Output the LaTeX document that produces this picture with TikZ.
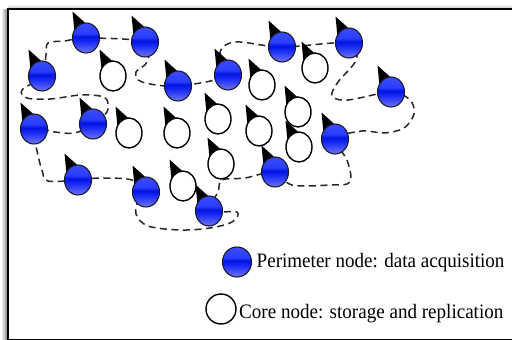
\documentclass[tikz,border=0pt]{standalone}
\usepackage{fontspec}
\setmainfont{Liberation Serif}
\usetikzlibrary{shapes.geometric,backgrounds}

\definecolor{ringgray}{RGB}{40,40,40}
\definecolor{nodeedge}{RGB}{25,25,45}

% glossy blue fill of the perimeter nodes (bottom to top)
\pgfdeclareverticalshading{glossyblue}{100bp}{%
  rgb(0bp)=(0.70,0.70,0.85);
  rgb(22bp)=(0.50,0.52,0.90);
  rgb(38bp)=(0.20,0.26,0.98);
  rgb(47bp)=(0.05,0.13,0.95);
  rgb(52bp)=(0.02,0.08,0.86);
  rgb(58bp)=(0.16,0.24,1.00);
  rgb(80bp)=(0.26,0.32,0.97);
  rgb(100bp)=(0.36,0.40,0.94)}

\tikzset{
  perim/.style={ellipse, inner sep=0pt, minimum width=27pt, minimum height=30pt,
    draw=nodeedge, line width=1.1pt, shading=glossyblue},
  core/.style={ellipse, inner sep=0pt, minimum width=26pt, minimum height=30pt,
    draw=black, line width=1.4pt, fill=white},
  pointer/.style={fill=black},
  ring/.style={draw=ringgray, line width=1.5pt, dash pattern=on 7pt off 4.5pt},
  legendtext/.style={anchor=base west, inner sep=0pt,
    font=\fontsize{20.5}{24}\selectfont},
}

\begin{document}
\begin{tikzpicture}[x=1pt, y=-1pt]
  \useasboundingbox (0,0) rectangle (512,340);

  % drop shadow and frame
  \begin{scope}[on background layer]
    \shade[left color=white, right color=black!55] (1,9) rectangle (8,340);
    \shade[top color=white, bottom color=black!25] (8,4) rectangle (512,9);
    \fill[white] (8,9) rectangle (515,339);
    \draw[line width=1.3pt] (515,9) -- (8,9) -- (8,339.2) -- (515,339.2);
  \end{scope}

  % perimeter nodes (with pointer)
  \foreach \nm/\px/\py in {n1/86/38, n2/145/42, n3/42/76, n4/178/86, n5/228/75,
      n6/282/47, n7/349/43, n8/391/92, n9/34/129, n10/93/124, n11/335/139,
      n12/78/180, n13/146/192, n14/209/211, n15/275/172} {
    \fill[pointer, shift={(\px,\py)}] (-13.5,-26.5) -- (-11.5,-6) -- (1.5,-13) -- cycle;
    \node[perim] (\nm) at (\px,\py) {};
  }

  % core nodes (with pointer)
  \foreach \nm/\px/\py in {a/113/76, b/129/133, c/177/133, d/218/119, e/221/164,
      f/183/186, g/262/85, h/259/131, i/298/112, j/299/147, k/315/68} {
    \fill[pointer, shift={(\px,\py)}] (-13.5,-26.5) -- (-11.5,-6) -- (1.5,-13) -- cycle;
    \node[core] (\nm) at (\px,\py) {};
  }

  % dashed perimeter ring through the perimeter nodes
  \begin{scope}[on background layer]
    \draw[ring] plot[smooth cycle, tension=0.55] coordinates {
      (n1.center) (n2.center) (147,62) (136,72) (142,82)
      (n4.center) (n5.center) (220,52) (236,42)
      (n6.center) (n7.center) (356,60) (338,82) (332,96) (348,100)
      (n8.center) (410,100) (414,114) (404,128) (384,133) (362,131)
      (n11.center) (347,160) (350,182) (330,185) (292,185)
      (n15.center) (245,178) (222,180) (218,192)
      (n14.center) (237,212) (232,222) (210,228) (180,230) (148,226) (136,214) (139,198)
      (n13.center) (132,180) (100,178)
      (n12.center) (48,181) (42,170) (38,155)
      (n9.center) (55,132) (75,133)
      (n10.center) (107,112) (107,100) (100,96) (80,95) (50,99) (27,98) (22,90)
      (n3.center) (46,55) (48,43) (65,41)
    };
  \end{scope}

  % legend
  \node[perim, minimum width=29pt] (lp) at (237,262) {};
  \node[core, minimum width=30pt] (lc) at (221,309) {};
  \node[legendtext] (tp) at (256.5,267) {\scalebox{0.93}[1]{Perimeter node: data acquisition}};
  \node[legendtext] (tc) at (239,318) {\scalebox{0.93}[1]{Core node: storage and replication}};
\end{tikzpicture}
\end{document}
